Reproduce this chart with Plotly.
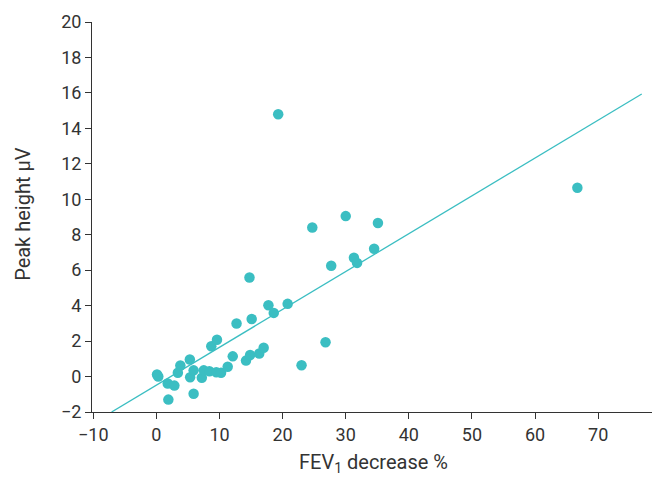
import plotly.graph_objects as go

# FEV1 decrease (%) vs peak height (uV)
fev1_decrease = [0.1, 0.3, 1.9, 1.8, 2.85, 3.4, 3.8, 5.3, 5.35, 5.9, 5.9, 7.2, 7.5,
                 8.7, 9.6, 8.4, 9.5, 10.25, 11.3, 12.1, 12.7, 15.1, 17.75, 18.6,
                 20.8, 14.2, 14.85, 16.3, 17.0, 23.0, 26.8, 19.3, 14.75, 24.7,
                 30.0, 35.1, 27.7, 31.3, 31.8, 34.5, 66.7]
peak_height = [0.12, 0.0, -1.3, -0.39, -0.51, 0.21, 0.62, 0.96, -0.04, 0.35, -0.97,
               -0.07, 0.35, 1.71, 2.08, 0.3, 0.24, 0.21, 0.55, 1.14, 2.99, 3.25,
               4.02, 3.59, 4.1, 0.9, 1.22, 1.3, 1.62, 0.64, 1.93, 14.8, 5.59, 8.41,
               9.05, 8.66, 6.25, 6.7, 6.41, 7.21, 10.65]

# regression line
fit_slope = 0.2136
fit_intercept = -0.485
fit_x = [-7.1, 76.9]
fit_y = [fit_intercept + fit_slope * v for v in fit_x]

x_ticks = [-10, 0, 10, 20, 30, 40, 50, 60, 70]
y_ticks = [-2, 0, 2, 4, 6, 8, 10, 12, 14, 16, 18, 20]
x_title = "FEV<sub>1</sub> decrease %"
y_title = "Peak height \u03bcV"

teal = "#3bbec2"
ink = "#333333"
font_family = "Roboto, 'DejaVu Sans', sans-serif"

fig = go.Figure()
fig.add_trace(go.Scatter(x=fit_x, y=fit_y, mode="lines",
                         line=dict(color=teal, width=1.3), hoverinfo="skip"))
fig.add_trace(go.Scatter(x=fev1_decrease, y=peak_height, mode="markers",
                         marker=dict(color=teal, size=10.5, line=dict(width=0))))

# page body has an 8px margin, so the figure is sized/offset to compensate
fig.update_layout(
    width=652, height=469,
    margin=dict(l=84, r=5, t=14, b=65),
    paper_bgcolor="white", plot_bgcolor="white",
    showlegend=False,
    font=dict(family=font_family, color=ink, size=18),
)
fig.update_xaxes(
    range=[-10.2, 79.0], tickvals=x_ticks,
    ticktext=[str(v).replace("-", "\u2212") for v in x_ticks],
    showline=True, linecolor=ink, linewidth=1, ticks="outside", ticklen=6,
    tickcolor=ink, showgrid=False, zeroline=False, automargin=False,
)
fig.update_yaxes(
    range=[-2, 20], tickvals=y_ticks,
    ticktext=[str(v).replace("-", "\u2212") for v in y_ticks],
    showline=True, linecolor=ink, linewidth=1, ticks="outside", ticklen=6,
    tickcolor=ink, showgrid=False, zeroline=False, automargin=False,
)
fig.add_annotation(text=x_title, xref="paper", yref="paper", x=0.5, y=-0.131,
                   xanchor="center", yanchor="middle", showarrow=False,
                   font=dict(size=20, color=ink))
fig.add_annotation(text=y_title, xref="paper", yref="paper", x=-0.1226, y=0.508,
                   xanchor="center", yanchor="middle", showarrow=False, textangle=-90,
                   font=dict(size=20, color=ink))

fig.write_html("out.html")
